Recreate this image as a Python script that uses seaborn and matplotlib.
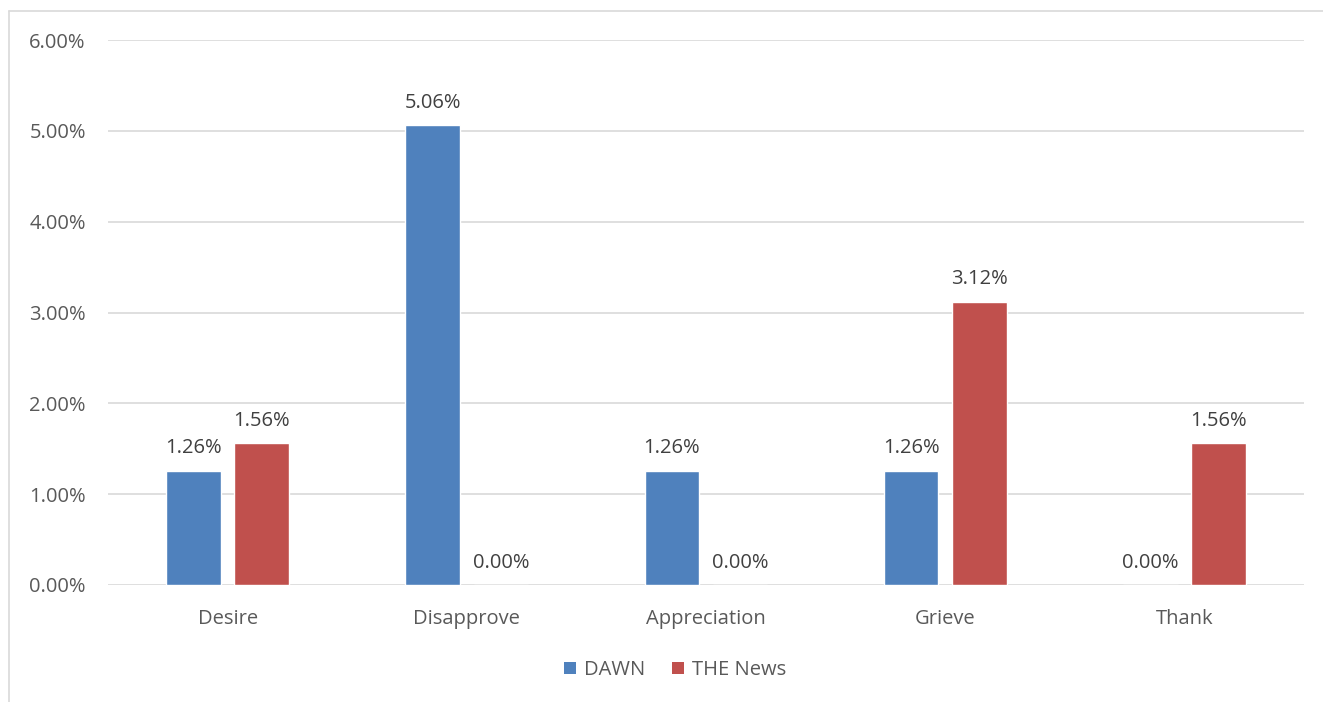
import matplotlib
matplotlib.use("Agg")
import matplotlib.pyplot as plt
import seaborn as sns
import pandas as pd
from matplotlib.lines import Line2D
from matplotlib.patches import Patch

categories = ["Desire", "Disapprove", "Appreciation", "Grieve", "Thank"]
dawn = [1.26, 5.06, 1.26, 1.26, 0.00]
the_news = [1.56, 0.00, 0.00, 3.12, 1.56]
series = ["DAWN", "THE News"]
colors = ["#4F81BD", "#C0504D"]
yticks = [0, 1, 2, 3, 4, 5, 6]

df = pd.DataFrame({
    "category": categories * 2,
    "series": [series[0]] * len(categories) + [series[1]] * len(categories),
    "value": dawn + the_news,
})

sns.set_theme(style="white")
plt.rcParams["font.family"] = ["Open Sans", "DejaVu Sans"]
text_color = "#595959"
grid_color = "#D9D9D9"
fs = 14.5

fig = plt.figure(figsize=(13.23, 7.02), dpi=100)
ax = fig.add_axes([108 / 1323, 117 / 702, (1304 - 108) / 1323, (585 - 40) / 702])

sns.barplot(data=df, x="category", y="value", hue="series", order=categories,
            hue_order=series, palette=colors, width=0.57, gap=0.2,
            saturation=1, ax=ax, legend=False, errorbar=None)

ax.set_ylim(0, 6)
ax.set_xlim(-0.5, len(categories) - 0.5)
ax.set_yticks(yticks)
ax.set_yticklabels([f"{v:.2f}%" for v in yticks])
ax.yaxis.grid(True, color=grid_color, linewidth=1.2)
ax.set_axisbelow(True)
for s in ax.spines.values():
    s.set_visible(False)
ax.tick_params(axis="y", length=0, pad=16, labelsize=fs, labelcolor=text_color)
ax.tick_params(axis="x", length=0, pad=17.5, labelsize=fs, labelcolor=text_color)
ax.set_xlabel("")
ax.set_ylabel("")

for container in ax.containers:
    ax.bar_label(container, labels=[f"{b.get_height():.2f}%" for b in container],
                 padding=9, fontsize=fs, color="#404040")

handles = [Patch(facecolor=c, edgecolor="none") for c in colors]
fig.legend(handles, series, loc="center", bbox_to_anchor=(675 / 1323, 1 - 670 / 702),
           ncol=2, frameon=False, fontsize=fs, handlelength=0.6, handleheight=0.6,
           handletextpad=0.4, columnspacing=1.3, labelcolor=text_color)

# chart frame
fig.add_artist(Line2D([9 / 1323, 9 / 1323], [0, 1 - 11 / 702], transform=fig.transFigure,
                      color=grid_color, linewidth=1.2))
fig.add_artist(Line2D([9 / 1323, 1], [1 - 11 / 702, 1 - 11 / 702], transform=fig.transFigure,
                      color=grid_color, linewidth=1.2))

fig.savefig("out.png", dpi=100, facecolor="white")
